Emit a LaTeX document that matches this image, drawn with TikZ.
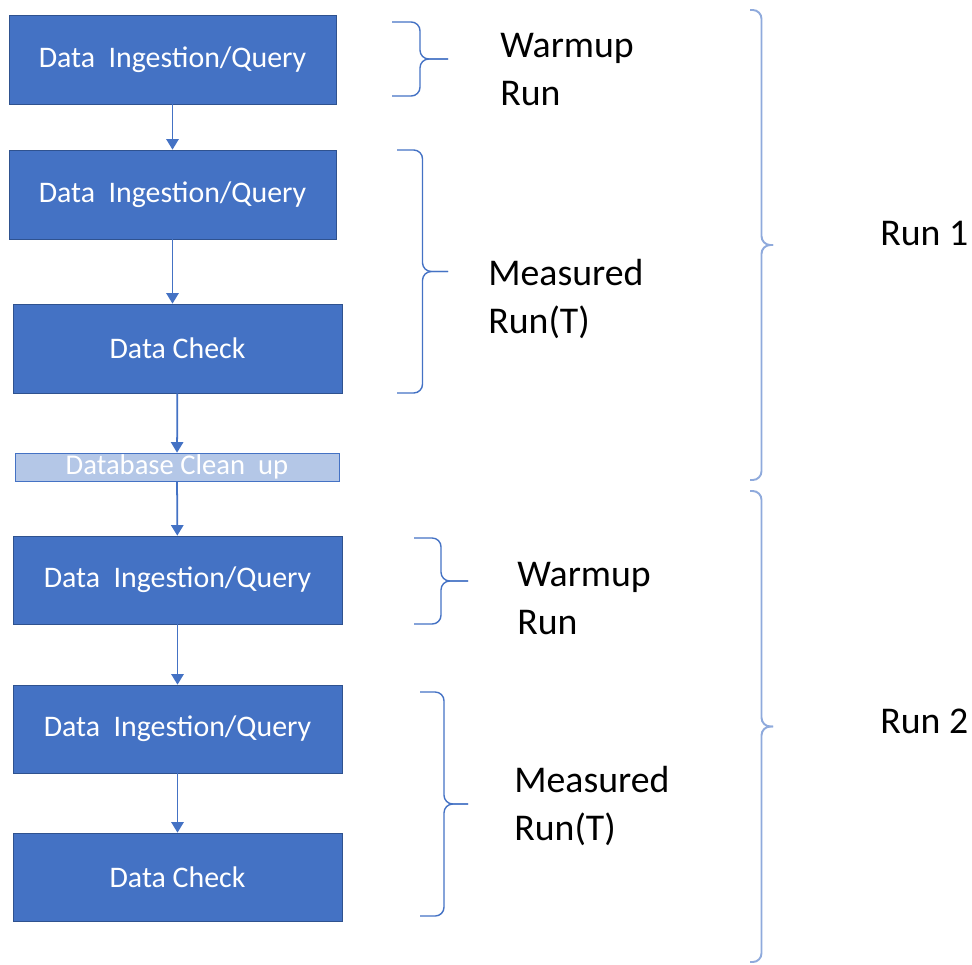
\documentclass[tikz,border=0pt]{standalone}
\usepackage{fontspec}
\setmainfont{Carlito}
\usetikzlibrary{arrows.meta}
\definecolor{boxblue}{HTML}{4472C4}
\definecolor{boxline}{HTML}{2F528F}
\definecolor{cleanblue}{HTML}{B4C7E7}
\definecolor{runblue}{HTML}{8FAADC}
\tikzset{
	stage/.style={draw=boxline,fill=boxblue,text=white,inner sep=0pt,minimum width=6.58cm,minimum height=1.76cm,font=\fontsize{17}{20}\selectfont},
	cleanup/.style={draw=boxblue,fill=cleanblue,text=white,inner sep=0pt,minimum width=6.48cm,minimum height=0.56cm,font=\fontsize{16.3}{20}\selectfont},
	flow/.style={draw=boxblue,line width=1pt,-{Triangle[width=7pt,length=6pt]}},
	lbl/.style={anchor=north west,inner sep=0pt,align=left,font=\fontsize{21.5}{27}\selectfont},
}
\newcommand{\grpbrace}[5][]{%
	\draw[#1,rounded corners=5pt] (#2,#4) -- ({(#2+#3)/2},#4) -- ({(#2+#3)/2},{(#4+#5)/2}) -- (#3,{(#4+#5)/2});
	\draw[#1,rounded corners=5pt] (#2,#5) -- ({(#2+#3)/2},#5) -- ({(#2+#3)/2},{(#4+#5)/2}) -- (#3,{(#4+#5)/2});
}
\begin{document}
\begin{tikzpicture}[x=0.02cm,y=-0.02cm]
	\useasboundingbox (0,0) rectangle (972,964);
	\node[stage,minimum width=6.54cm,minimum height=1.78cm] (q1) at (172.5,59.5) {Data\ \ Ingestion/Query};
	\node[stage,minimum width=6.54cm,minimum height=1.78cm] (q2) at (172.5,194.5) {Data\ \ Ingestion/Query};
	\node[stage,minimum height=1.78cm] (c1) at (177.5,348.5) {Data Check};
	\node[cleanup] (clean) at (177,467) {Database Clean\ \ up};
	\node[stage] (q3) at (177.5,580) {Data\ \ Ingestion/Query};
	\node[stage] (q4) at (177.5,729) {Data\ \ Ingestion/Query};
	\node[stage] (c2) at (177.5,877) {Data Check};
	\draw[flow] (q1) -- (q2);
	\draw[flow] (q2) -- (q2 |- c1.north);
	\draw[flow] (c1) -- (clean);
	\draw[flow] (clean) -- (q3);
	\draw[flow] (q3) -- (q4);
	\draw[flow] (q4) -- (c2);
	\grpbrace[boxblue,line width=0.8pt]{392}{448}{22}{96}
	\grpbrace[boxblue,line width=0.8pt]{397}{448}{150}{393}
	\grpbrace[boxblue,line width=0.8pt]{414}{468}{538}{624}
	\grpbrace[boxblue,line width=0.8pt]{420}{468}{692}{916}
	\grpbrace[runblue,line width=1.1pt]{750}{773}{10}{480}
	\grpbrace[runblue,line width=1.1pt]{750}{773}{491}{962}
	\node[lbl] (w1) at (500,33) {Warmup\\Run};
	\node[lbl] (m1) at (488,259) {Measured\\Run(T)};
	\node[lbl] (r1) at (880,221) {Run 1};
	\node[lbl] (w2) at (517,562) {Warmup\\Run};
	\node[lbl] (m2) at (514,766) {Measured\\Run(T)};
	\node[lbl] (r2) at (880,709) {Run 2};
\end{tikzpicture}
\end{document}
